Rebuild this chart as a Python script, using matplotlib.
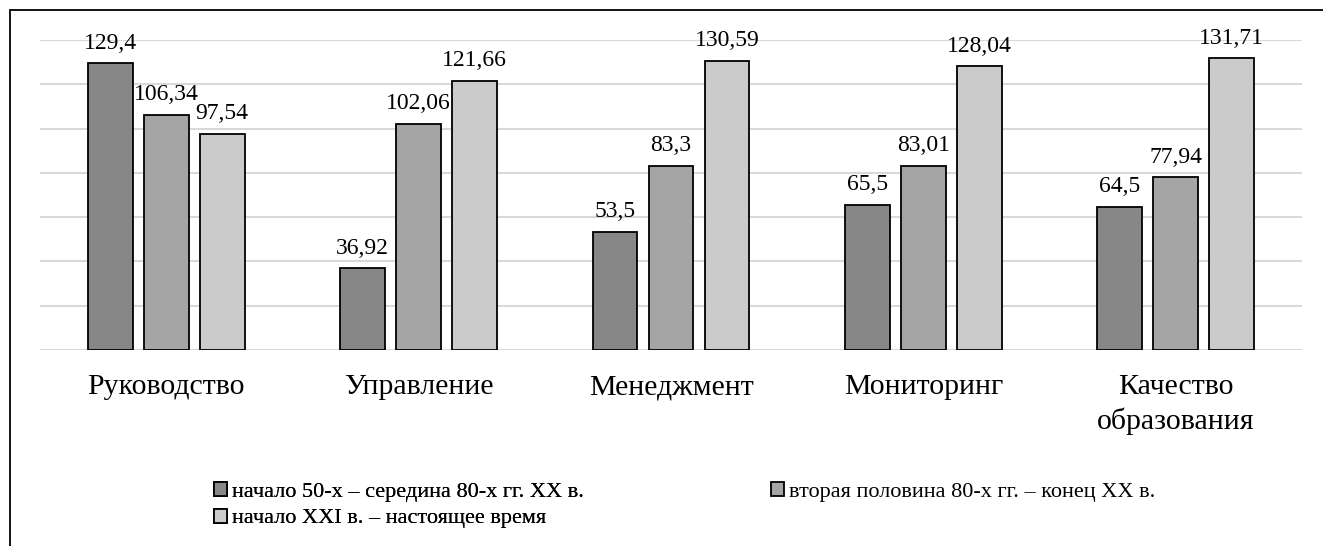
import matplotlib

matplotlib.use("Agg")
import matplotlib.pyplot as plt
import numpy as np
from matplotlib.patches import Patch, Rectangle

# categories and period series
categories = ["Руководство", "Управление", "Менеджмент", "Мониторинг",
              "Качество\nобразования"]
series_names = [
    "начало 50-х – середина 80-х гг. XX в.",
    "вторая половина 80-х гг. – конец XX в.",
    "начало XXI в. – настоящее время",
]
period_1 = [129.4, 36.92, 53.5, 65.5, 64.5]
period_2 = [106.34, 102.06, 83.3, 83.01, 77.94]
period_3 = [97.54, 121.66, 130.59, 128.04, 131.71]
y_ticks = [0, 20, 40, 60, 80, 100, 120, 140]

COLORS = ["#878787", "#a5a5a5", "#cbcbcb"]
GRID = "#d9d9d9"

plt.rcParams["font.family"] = ["Liberation Serif", "DejaVu Serif"]

W, H = 1323, 546
fig = plt.figure(figsize=(W / 100, H / 100), dpi=100)
ax = fig.add_axes([40 / W, 1 - 350 / H, 1262 / W, 310 / H])

x = np.arange(len(categories))
width = 0.178
step = 0.222
for i, vals in enumerate([period_1, period_2, period_3]):
    bars = ax.bar(x + (i - 1) * step, vals, width, color=COLORS[i],
                  edgecolor="black", linewidth=1.3, zorder=3,
                  label=series_names[i])
    for b, v in zip(bars, vals):
        ax.annotate(f"{v:g}".replace(".", ","),
                    xy=(b.get_x() + b.get_width() / 2, v),
                    xytext=(0, 7), textcoords="offset points",
                    ha="center", va="bottom", fontsize=17,
                    annotation_clip=False, zorder=4)

ax.set_xlim(-0.5, len(categories) - 0.5)
ax.set_ylim(0, 140)
ax.set_yticks(y_ticks)
ax.yaxis.grid(True, color=GRID, lw=1.5, zorder=0)
ax.tick_params(axis="y", left=False, labelleft=False)
ax.tick_params(axis="x", bottom=False, pad=14)
ax.set_xticks(x)
ax.set_xticklabels(categories, fontsize=21.5, linespacing=1.35)
for s in ax.spines.values():
    s.set_visible(False)

# legend: two entries on the first row, one on the second
handles = [Patch(facecolor=c, edgecolor="black", lw=1.3) for c in COLORS]
leg_kw = dict(frameon=False, fontsize=16, handlelength=0.6, handleheight=0.6,
              handletextpad=0.2, labelspacing=0.3, borderpad=0,
              borderaxespad=0, loc="upper left")
leg1 = fig.legend([handles[0], handles[2]], [series_names[0], series_names[2]],
                  bbox_to_anchor=(214 / W, 1 - 482 / H), **leg_kw)
fig.add_artist(leg1)
fig.legend([handles[1]], [series_names[1]],
           bbox_to_anchor=(771 / W, 1 - 482 / H), **leg_kw)

# chart frame (extends past the right and bottom edges)
fig.add_artist(Rectangle((10 / W, -0.1), 1.2, 1.1 - 10 / H,
                         transform=fig.transFigure, fill=False,
                         edgecolor="black", lw=1.3))

fig.savefig("out.png", dpi=100)
